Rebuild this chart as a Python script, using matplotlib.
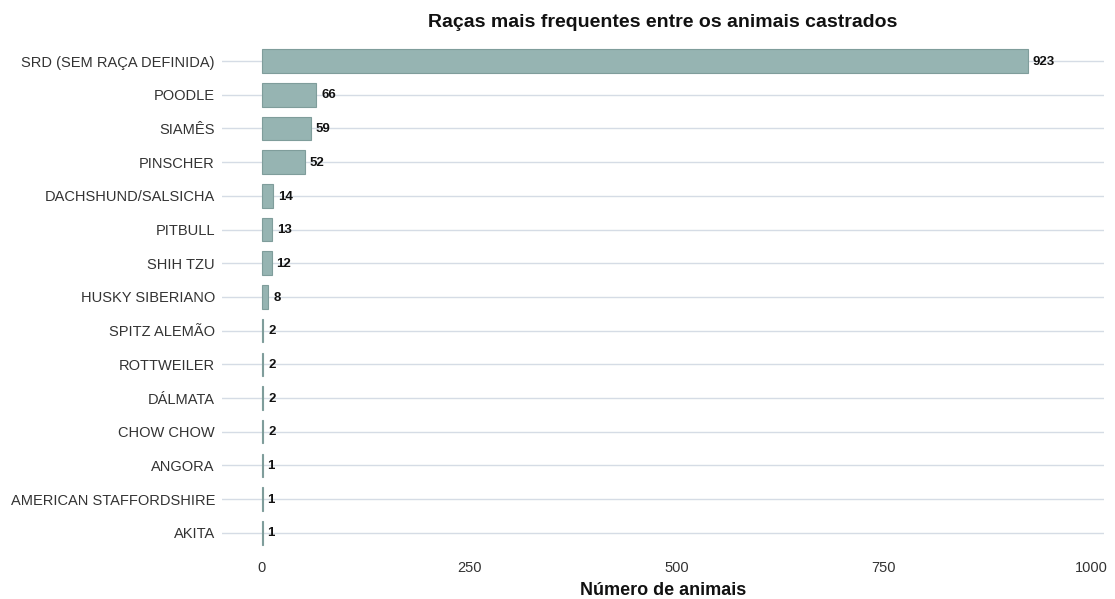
import matplotlib
matplotlib.use("Agg")
import matplotlib.pyplot as plt

breeds = ["SRD (SEM RAÇA DEFINIDA)", "POODLE", "SIAMÊS", "PINSCHER", "DACHSHUND/SALSICHA",
          "PITBULL", "SHIH TZU", "HUSKY SIBERIANO", "SPITZ ALEMÃO", "ROTTWEILER",
          "DÁLMATA", "CHOW CHOW", "ANGORA", "AMERICAN STAFFORDSHIRE", "AKITA"]
counts = [923, 66, 59, 52, 14, 13, 12, 8, 2, 2, 2, 2, 1, 1, 1]
xticks = [0, 250, 500, 750, 1000]

plt.rcParams['font.family'] = ['Liberation Sans', 'DejaVu Sans']

fig = plt.figure(figsize=(11.15, 5.99), dpi=100)
ax = fig.add_axes([0.199, 0.0768, 0.791, 0.855])

n = len(breeds)
ypos = list(range(n))[::-1]
for y in ypos:
    ax.axhline(y, color="#d5dce5", lw=1.0, zorder=0)
ax.barh(ypos, counts, height=0.7, color="#96b4b2", edgecolor="#7f9d9b", lw=0.8, zorder=2)
for y, v in zip(ypos, counts):
    ax.annotate(str(v), (v, y), xytext=(3.5, -0.5), textcoords="offset points",
                va="center", ha="left", fontsize=9.5, fontweight="bold", color="#111111", zorder=3)

ax.set_yticks(ypos)
ax.set_yticklabels(breeds, fontsize=10.5, color="#333333")
ax.set_xticks(xticks)
ax.set_xticklabels([str(t) for t in xticks], fontsize=10.5, color="#333333")
ax.set_xlim(-48, 1015)
ax.set_ylim(-0.6, n - 1 + 0.6)
ax.tick_params(axis='y', length=0, pad=5)
ax.tick_params(axis='x', length=0, pad=6)
for s in ax.spines.values():
    s.set_visible(False)
ax.set_xlabel("Número de animais", fontsize=13, fontweight="bold", color="#111111", labelpad=5)
ax.set_title("Raças mais frequentes entre os animais castrados", fontsize=14, fontweight="bold", color="#111111", pad=10)

fig.savefig("out.png", dpi=100, facecolor="white")
